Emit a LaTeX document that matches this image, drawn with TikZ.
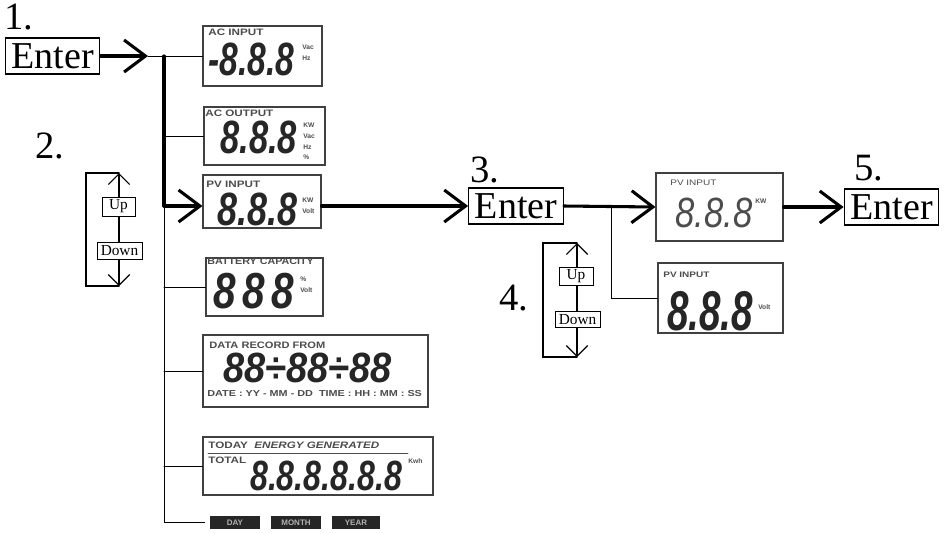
\documentclass[tikz,border=0pt]{standalone}
\usepackage{fontspec}
\setmainfont{Liberation Serif}
\newfontfamily\lcdfont{Liberation Sans}
\usetikzlibrary{arrows.meta}

\begin{document}
\begin{tikzpicture}[x=0.75pt,y=-0.75pt,line cap=round,
  bigarrow/.style={line width=2.3pt,-{Straight Barb[length=16pt,width=24pt]}},
  thickline/.style={line width=2.3pt},
  thinline/.style={line width=0.75pt},
  bracket/.style={line width=1.3pt},
  updown/.style={line width=0.9pt,{Straight Barb[length=8pt,width=16pt]}-{Straight Barb[length=8pt,width=16pt]}},
  enterbox/.style={draw,line width=0.8pt,font=\fontsize{28.5}{29}\selectfont,minimum width=71pt,minimum height=27pt,inner sep=0pt},
  steplabel/.style={font=\fontsize{29}{29}\selectfont,inner sep=0pt},
  udbox/.style={draw,fill=white,line width=0.6pt,font=\fontsize{11.5}{12}\selectfont,inner sep=0pt},
  lcd/.style={draw=black!75,line width=0.8pt,inner sep=0pt},
  lcdtitle/.style={font=\lcdfont\bfseries\fontsize{7}{7}\selectfont,text=black!70,inner sep=0pt,anchor=west,xscale=1.25},
  lcdunit/.style={font=\lcdfont\bfseries\fontsize{5}{8}\selectfont,text=black!70,inner sep=0pt,align=left,anchor=west},
  digits/.style={font=\lcdfont\bfseries\itshape\fontsize{#1}{#1}\selectfont,text=black!85,inner sep=0pt,text depth=0pt,anchor=base west},
  digits/.default=35,
  modebox/.style={fill=black!85,text=white!70!black,font=\lcdfont\bfseries\fontsize{6}{6}\selectfont,minimum height=9.5pt,inner sep=0pt}]
\useasboundingbox (0,0) rectangle (949,533);

% step numbers and Enter keys
\node[steplabel] (num1) at (18.5,17.5) {1.};
\node[steplabel] (num2) at (50,146) {2.};
\node[steplabel] (num3) at (485,169.5) {3.};
\node[steplabel] (num4) at (514,298) {4.};
\node[steplabel] (num5) at (868.5,168.5) {5.};
\node[enterbox] (enter1) at (52.5,56) {Enter};
\node[enterbox] (enter3) at (516,206) {Enter};
\node[enterbox] (enter5) at (891.5,207) {Enter};

% display panels
\node[lcd,minimum width=89.25pt,minimum height=45pt] (acin) at (262.5,56) {};
\node[lcd,minimum width=90.75pt,minimum height=43.5pt] (acout) at (264.5,136) {};
\node[lcd,minimum width=88.5pt,minimum height=39.75pt] (pvin) at (262,201.5) {};
\node[lcd,minimum width=87.75pt,minimum height=43.5pt] (batt) at (264.5,287) {};
\node[lcd,minimum width=168.75pt,minimum height=54pt] (record) at (315.5,371) {};
\node[lcd,minimum width=172.5pt,minimum height=43.5pt] (today) at (318,466) {};
\node[lcd,minimum width=95.25pt,minimum height=51pt] (pvkw) at (719.5,207) {};
\node[lcd,minimum width=93.75pt,minimum height=52.5pt] (pvvolt) at (720.5,298) {};
\node[modebox,minimum width=37.5pt] (day) at (235,522.5) {DAY};
\node[modebox,minimum width=37.5pt] (month) at (296,522.5) {MONTH};
\node[modebox,minimum width=36pt] (year) at (356,522.5) {YEAR};

% panel contents
\node[lcdtitle] (acinT) at (208,32.5) {AC INPUT};
\node[digits,xscale=0.72] (acinD) at (208,75) {-8.8.8};
\node[lcdunit] (acinU) at (302,53) {Vac\\Hz};
\node[lcdtitle] (acoutT) at (205,113) {AC OUTPUT};
\node[digits,xscale=0.74] (acoutD) at (220,153) {8.8.8};
\node[lcdunit] (acoutU) at (303,141.5) {KW\\Vac\\Hz\\\%};
\node[lcdtitle] (pvinT) at (206,184) {PV INPUT};
\node[digits,xscale=0.77] (pvinD) at (217,225) {8.8.8};
\node[lcdunit] (pvinU) at (302,205.5) {KW\\Volt};
\node[lcdtitle,xscale=0.92] (battT) at (207,261) {BATTERY CAPACITY};
\node[digits=38,xscale=0.8] (battD) at (213,308) {8\kern6pt8\kern6pt8};
\node[lcdunit] (battU) at (300,285) {\%\\Volt};
\node[lcdtitle,xscale=0.95] (recordT) at (209,345) {DATA RECORD FROM};
\node[digits=31.7,xscale=0.9] (recordD) at (223,382) {88÷88÷88};
\node[lcdtitle,font=\lcdfont\bfseries\fontsize{6.5}{7}\selectfont] (recordB) at (207,394) {DATE : YY - MM - DD\ \ TIME : HH : MM : SS};
\node[lcdtitle] (todayT) at (208,445.5) {TODAY\ \ \textit{ENERGY GENERATED}};
\draw[black!70,line width=0.6pt] (208,453) -- (408,453);
\node[lcdtitle] (todayL) at (208,460) {TOTAL};
\node[digits=31.7,xscale=0.76] (todayD) at (250,490) {8.8.8.8.8.8};
\node[lcdunit] (todayU) at (408,461.5) {Kwh};
\node[lcdtitle,font=\lcdfont\fontsize{6}{6}\selectfont] (pvkwT) at (670,183) {PV INPUT};
\node[digits=31.7,xscale=0.82,text=black!70,font=\lcdfont\itshape\fontsize{31.7}{31.7}\selectfont] (pvkwD) at (675,227) {8.8.8};
\node[lcdunit] (pvkwU) at (755,201) {KW};
\node[lcdtitle,font=\lcdfont\bfseries\fontsize{6}{6}\selectfont] (pvvoltT) at (663,274.5) {PV INPUT};
\node[digits=42,xscale=0.69] (pvvoltD) at (667,330) {8.8.8};
\node[lcdunit] (pvvoltU) at (758,307.5) {Volt};

% up / down keys
\coordinate (ud1top) at (119,173);
\coordinate (ud1bot) at (119,286);
\draw[bracket] (ud1top) -- ++(-33,0) |- (ud1bot);
\draw[updown] (ud1top) -- (ud1bot);
\node[udbox,minimum width=24.75pt,minimum height=14.25pt] (up1) at (118.5,206.5) {Up};
\node[udbox,minimum width=33.75pt,minimum height=12.75pt] (down1) at (119.5,250.5) {Down};
\coordinate (ud2top) at (577,243);
\coordinate (ud2bot) at (577,357);
\draw[bracket] (ud2top) -- ++(-34,0) |- (ud2bot);
\draw[updown] (ud2top) -- (ud2bot);
\node[udbox,minimum width=25.5pt,minimum height=13.5pt] (up2) at (576,276) {Up};
\node[udbox,minimum width=33.75pt,minimum height=12pt] (down2) at (577.5,319.5) {Down};

% connectors
\coordinate (tip1) at (148,56);
\coordinate (split1) at (164,56);
\coordinate (split2) at (164,206);
\coordinate (split3) at (611,207);
\draw[bigarrow] (enter1.east) -- (tip1);
\draw[thinline] (tip1) -- (acin.west);
\draw[thickline] (split1) -- (split2);
\draw[bigarrow] (split2) -- (split2 -| pvin.west);
\draw[thinline] (split2) |- ([xshift=-3.75pt]day.west);
\foreach \p in {acout,batt,record,today}
  \draw[thinline] (split1 |- \p.west) -- (\p.west);
\draw[bigarrow] (enter3.west -| pvin.east) -- (enter3.west);
\draw[bigarrow] (enter3.east) -- (pvkw.west);
\draw[thinline] (split3) |- (pvvolt.west);
\draw[bigarrow] (pvkw.east) -- (enter5.west);
\end{tikzpicture}
\end{document}
